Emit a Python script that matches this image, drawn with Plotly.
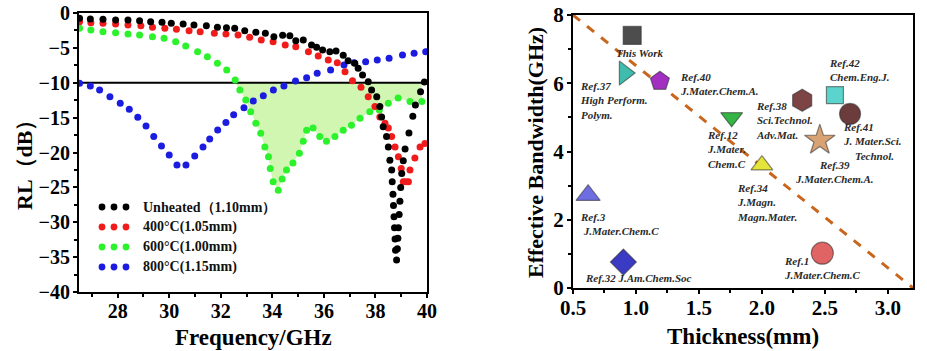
import plotly.graph_objects as go
import numpy as np

# ---------------- Left panel: reflection loss data ----------------
freq_unheated = [26.52, 26.94, 27.43, 27.92, 28.40, 28.85, 29.28, 29.72, 30.08, 30.54, 30.96, 31.44,
                 31.87, 32.22, 32.54, 32.93, 33.36, 33.73, 34.06, 34.40, 34.68, 34.91, 35.20, 35.52,
                 35.72, 35.95, 36.23, 36.47, 36.75, 36.94, 37.20, 37.33, 37.50, 37.72, 37.85, 38.05,
                 38.17, 38.24, 38.30, 38.43, 38.50, 38.56, 38.63, 38.65, 38.68, 38.70, 38.72, 38.74,
                 38.76, 38.78, 38.82, 38.85, 38.87, 38.89, 38.92, 38.95, 38.98, 39.02, 39.08, 39.15,
                 39.30, 39.45, 39.55, 39.75, 39.90]
rl_unheated = [-0.77, -0.86, -0.91, -1.0, -1.0, -1.1, -1.24, -1.34, -1.48, -1.58, -1.72, -1.82,
               -2.05, -2.1, -2.2, -2.53, -2.77, -2.92, -3.39, -3.2, -3.25, -3.97, -3.87, -4.59,
               -4.92, -5.3, -5.54, -5.45, -6.07, -6.83, -7.22, -7.93, -8.89, -9.85, -11.04, -12.0,
               -13.4, -14.9, -16.3, -17.7, -19.2, -21.1, -22.5, -24.2, -26.0, -27.6, -29.2, -30.8,
               -32.4, -34.0, -35.4, -33.8, -32.3, -30.8, -28.9, -27.0, -25.0, -23.0, -21.2, -19.5,
               -17.2, -14.8, -13.2, -11.3, -9.9]

freq_400 = [26.52, 26.96, 27.43, 27.92, 28.40, 28.90, 29.35, 29.83, 30.28, 30.77, 31.20, 31.75,
            32.20, 32.67, 33.12, 33.57, 34.03, 34.50, 34.91, 35.40, 35.78, 36.17, 36.52, 36.82,
            37.11, 37.44, 37.72, 37.98, 38.17, 38.37, 38.50, 38.63, 38.76, 38.89, 39.00, 39.08,
            39.18, 39.28, 39.34, 39.53, 39.73, 39.92]
rl_400 = [-1.24, -1.39, -1.48, -1.58, -1.72, -1.82, -2.05, -2.2, -2.34, -2.53, -2.68, -2.92,
          -3.01, -3.15, -3.49, -3.87, -4.11, -4.59, -4.83, -5.54, -6.17, -6.74, -7.12, -8.41,
          -9.7, -10.66, -12.0, -13.4, -14.9, -15.8, -16.5, -17.7, -19.2, -20.6, -22.3, -24.2,
          -24.2, -24.2, -22.5, -20.8, -19.2, -18.7]

freq_600 = [26.52, 26.96, 27.43, 27.92, 28.40, 28.85, 29.35, 29.80, 30.25, 30.64, 31.10, 31.48,
            31.87, 32.23, 32.56, 32.74, 32.97, 33.16, 33.36, 33.55, 33.71, 33.85, 33.92, 34.03,
            34.23, 34.38, 34.55, 34.80, 35.05, 35.20, 35.33, 35.58, 35.84, 36.10, 36.43, 36.75,
            37.07, 37.40, 37.78, 38.15, 38.50, 38.88, 39.34, 39.80]
rl_600 = [-2.2, -2.44, -2.68, -2.82, -3.01, -3.15, -3.39, -3.63, -4.11, -4.73, -5.54, -6.26,
          -7.22, -8.17, -9.6, -11.04, -12.47, -14.15, -15.8, -17.25, -19.2, -20.6, -22.3, -24.2,
          -25.4, -23.8, -22.5, -21.5, -20.1, -18.4, -16.8, -16.5, -17.7, -18.4, -17.7, -16.8,
          -16.1, -15.1, -14.15, -13.9, -12.95, -12.2, -12.7, -12.7]

freq_800 = [26.52, 26.94, 27.30, 27.70, 28.10, 28.45, 28.78, 29.10, 29.40, 29.70, 30.00, 30.30,
            30.65, 30.99, 31.31, 31.57, 31.88, 32.20, 32.50, 32.90, 33.26, 33.65, 34.04, 34.45,
            34.90, 35.33, 35.74, 36.26, 36.78, 37.17, 37.62, 38.07, 38.53, 39.05, 39.50, 39.95]
rl_800 = [-10.08, -10.47, -11.04, -12.0, -12.95, -13.8, -14.95, -16.2, -17.7, -19.07, -20.36, -21.8,
          -21.8, -20.5, -19.2, -18.06, -16.77, -15.7, -14.6, -13.6, -12.6, -11.86, -11.04, -10.47,
          -9.75, -9.27, -8.65, -8.17, -7.45, -7.12, -6.98, -6.74, -6.5, -6.02, -5.78, -5.54]

series_names = ["Unheated（1.10mm）", "400°C(1.05mm)", "600°C(1.00mm)", "800°C(1.15mm)"]
rl_threshold = -10

# ---------------- Right panel: comparison data ----------------
ref_names = ["This Work", "Ref.37", "Ref.40", "Ref.12", "Ref.34", "Ref.38",
             "Ref.42", "Ref.41", "Ref.39", "Ref.3", "Ref.32", "Ref.1"]
thickness = [0.97, 0.91, 1.19, 1.76, 2.00, 2.32, 2.58, 2.70, 2.46, 0.62, 0.90, 2.48]
bandwidth = [7.40, 6.30, 6.06, 5.00, 3.60, 5.50, 5.65, 5.10, 4.33, 2.72, 0.76, 1.02]
ref_labels = ["This Work",
              "Ref.37<br>High Perform.<br>Polym.",
              "Ref.40<br>J.Mater.Chem.A.",
              "Ref.12<br>J.Mater.<br>Chem.C",
              "Ref.34<br>J.Magn.<br>Magn.Mater.",
              "Ref.38<br>Sci.Technol.<br>Adv.Mat.",
              "Ref.42<br>Chem.Eng.J.",
              "Ref.41<br>J. Mater.Sci.<br>    Technol.",
              "Ref.39<br>J.Mater.Chem.A.",
              "Ref.3<br> J.Mater.Chem.C",
              "Ref.32 J.Am.Chem.Soc",
              "Ref.1<br>J.Mater.Chem.C"]
limit_thickness = [0.5, 3.2]
limit_bandwidth = [8, 0]

# ---------------- styles / positions ----------------
FONT = "Liberation Serif, Times New Roman, serif"
series_colors = ["#000000", "#f01c1c", "#2cf22c", "#1c1ce0"]
marker_styles = [
    dict(symbol="square", color="#4d4d4d", size=18),
    dict(symbol="triangle-right", color="#3fbcac", size=21),
    dict(symbol="pentagon", color="#a22fc2", size=20),
    dict(symbol="triangle-down", color="#35b545", size=19),
    dict(symbol="triangle-up", color="#e4e43a", size=19),
    dict(symbol="hexagon", color="#7c4444", size=22),
    dict(symbol="square", color="#5ad4cc", size=17),
    dict(symbol="circle", color="#6c3c3c", size=21),
    dict(symbol="star", color="#d9a273", size=23),
    dict(symbol="triangle-up", color="#6e6ee2", size=21),
    dict(symbol="diamond", color="#3a3ac2", size=20),
    dict(symbol="circle", color="#e06464", size=22),
]
# label anchor positions (data coords of right panel) and alignment
label_pos = [
    (1.03, 6.88, "center"), (0.54, 5.50, "left"), (1.33, 5.98, "left"), (1.55, 4.07, "left"),
    (1.79, 2.52, "left"), (1.94, 4.90, "left"), (2.52, 6.39, "left"), (2.63, 4.29, "left"),
    (2.58, 3.40, "center"), (0.54, 1.87, "left"), (0.58, 0.29, "left"), (2.16, 0.60, "left"),
]

W, H = 927, 351
left_dom_x = [79 / W, 427 / W]
left_dom_y = [1 - 292 / H, 1 - 13 / H]
right_dom_x = [573 / W, 913 / W]
right_dom_y = [1 - 288 / H, 1 - 15 / H]

fig = go.Figure()

# Fill region for the 600°C curve below -10 dB
f600 = np.array(freq_600)
r600 = np.array(rl_600)
fig.add_trace(go.Scatter(x=f600, y=np.full_like(r600, rl_threshold), mode="lines",
                         line=dict(width=0), showlegend=False, hoverinfo="skip",
                         xaxis="x", yaxis="y"))
fig.add_trace(go.Scatter(x=f600, y=np.minimum(r600, rl_threshold), mode="lines",
                         line=dict(width=0), fill="tonexty", fillcolor="rgba(200,245,165,0.85)",
                         showlegend=False, hoverinfo="skip", xaxis="x", yaxis="y"))

# -10 dB reference line
fig.add_trace(go.Scatter(x=[26.5, 40], y=[rl_threshold, rl_threshold], mode="lines",
                         line=dict(color="black", width=2.2), showlegend=False,
                         hoverinfo="skip", xaxis="x", yaxis="y"))

for fx, ry, name, col in zip([freq_800, freq_600, freq_400, freq_unheated],
                             [rl_800, rl_600, rl_400, rl_unheated],
                             series_names[::-1], series_colors[::-1]):
    fig.add_trace(go.Scatter(x=fx, y=ry, mode="markers", name=name,
                             marker=dict(color=col, size=7, line=dict(width=0)),
                             showlegend=False, xaxis="x", yaxis="y"))

# Right panel: limit line
fig.add_trace(go.Scatter(x=limit_thickness, y=limit_bandwidth, mode="lines",
                         line=dict(color="#c8661e", width=3, dash="dash"),
                         showlegend=False, xaxis="x2", yaxis="y2"))

for i, (tx, by, nm) in enumerate(zip(thickness, bandwidth, ref_names)):
    st = marker_styles[i]
    fig.add_trace(go.Scatter(x=[tx], y=[by], mode="markers", name=nm,
                             marker=dict(symbol=st["symbol"], size=st["size"], color=st["color"],
                                         line=dict(color="rgba(40,40,40,0.55)", width=1.2)),
                             showlegend=False, xaxis="x2", yaxis="y2"))

annotations = []
for (lx, ly, al), txt in zip(label_pos, ref_labels):
    annotations.append(dict(x=lx, y=ly, xref="x2", yref="y2", text=txt, showarrow=False,
                            xanchor=al, yanchor="middle", align=al,
                            font=dict(family=FONT, size=11, color="#2a2a2a",
                                      weight="bold", style="italic")))

# Legend (manual, three dots per entry)
shapes = []
leg_rows = [207, 227, 247, 267]
leg_dots = [102, 114, 126]
for row, name, col in zip(leg_rows, series_names, series_colors):
    for dx in leg_dots:
        shapes.append(dict(type="circle", xref="paper", yref="paper",
                           x0=(dx - 3.4) / W, x1=(dx + 3.4) / W,
                           y0=1 - (row + 3.4) / H, y1=1 - (row - 3.4) / H,
                           fillcolor=col, line=dict(width=0)))
    annotations.append(dict(x=141 / W, y=1 - row / H, xref="paper", yref="paper", text=name,
                            showarrow=False, xanchor="left", yanchor="middle",
                            font=dict(family=FONT, size=14, color="#111", weight="bold")))

# Axis titles
annotations += [
    dict(x=24 / W, y=1 - 160 / H, xref="paper", yref="paper", text="RL（dB）", textangle=-90,
         showarrow=False, xanchor="center", yanchor="middle",
         font=dict(family=FONT, size=22, color="black", weight="bold")),
    dict(x=253 / W, y=1 - 337 / H, xref="paper", yref="paper", text="Frequency/GHz",
         showarrow=False, xanchor="center", yanchor="middle",
         font=dict(family=FONT, size=23, color="black", weight="bold")),
    dict(x=535 / W, y=1 - 153 / H, xref="paper", yref="paper", text="Effective Bandwidth(GHz)",
         textangle=-90, showarrow=False, xanchor="center", yanchor="middle",
         font=dict(family=FONT, size=22, color="black", weight="bold")),
    dict(x=743 / W, y=1 - 336 / H, xref="paper", yref="paper", text="Thickness(mm)",
         showarrow=False, xanchor="center", yanchor="middle",
         font=dict(family=FONT, size=23, color="black", weight="bold")),
]

tick_font_l = dict(family=FONT, size=20, color="black", weight="bold")
tick_font_r = dict(family=FONT, size=21, color="black", weight="bold")
axis_common = dict(showline=True, linewidth=2, linecolor="black", mirror=True,
                   ticks="outside", ticklen=4, tickwidth=1.5, tickcolor="black",
                   showgrid=False, zeroline=False, automargin=False)

fig.update_layout(
    width=W, height=H, margin=dict(l=0, r=0, t=0, b=0),
    font=dict(family=FONT, color="black"),
    paper_bgcolor="white", plot_bgcolor="white", showlegend=False,
    xaxis=dict(domain=left_dom_x, range=[26.5, 40], tick0=28, dtick=2, tickfont=tick_font_l,
               minor=dict(ticks="outside", dtick=1, tick0=27, ticklen=3, tickcolor="black"),
               **axis_common),
    yaxis=dict(domain=left_dom_y, range=[-40, 0], dtick=5, tickfont=tick_font_l,
               minor=dict(ticks="outside", dtick=2.5, ticklen=3, tickcolor="black"),
               **axis_common),
    xaxis2=dict(domain=right_dom_x, range=[0.5, 3.2], dtick=0.5, tick0=0.5, tickformat=".1f",
                anchor="y2", tickfont=tick_font_r,
                minor=dict(ticks="outside", dtick=0.25, tick0=0.5, ticklen=3, tickcolor="black"),
                **axis_common),
    yaxis2=dict(domain=right_dom_y, range=[0, 8], dtick=2, anchor="x2", tickfont=tick_font_r,
                minor=dict(ticks="outside", dtick=1, ticklen=3, tickcolor="black"),
                **axis_common),
    annotations=annotations, shapes=shapes,
)
fig.update_xaxes(ticklabelstandoff=-4)
fig.update_yaxes(ticklabelstandoff=-1)

fig.write_html("out.html")
